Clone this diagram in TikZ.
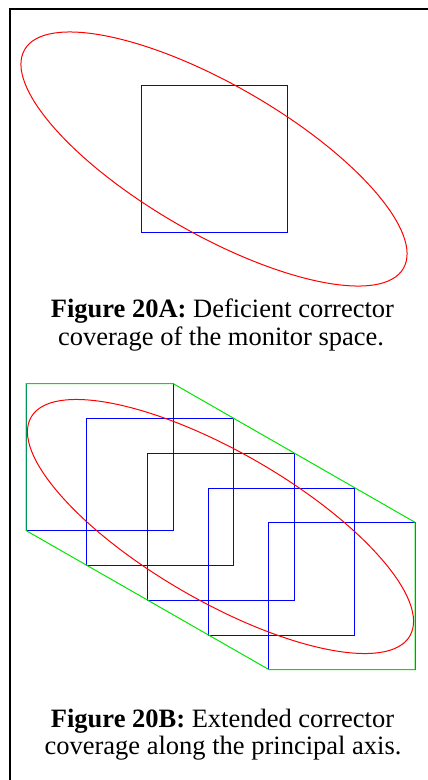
\documentclass[tikz,border=0pt]{standalone}
\usepackage{fontspec}
\setmainfont{Liberation Serif}
\begin{document}
\begin{tikzpicture}[x=1pt,y=-1pt,
  frame/.style={draw=black,line width=2pt},
  sq/.style={draw=blue,line width=1pt},
  hull/.style={draw=green!90!black,line width=1pt},
  ell/.style={draw=red,line width=1pt},
  captxt/.style={font=\fontsize{26.5}{28}\selectfont,anchor=base,inner sep=0pt}]
\useasboundingbox (0,0) rectangle (428,780);
% frame
\draw[frame] (10,782) -- (10,9) -- (430,9);
% ---- Figure 20A ----
\coordinate (E1) at (214,159);
\draw[sq] (141,85.5) rectangle (287,232.5);
\draw[ell, rotate around={-30:(E1)}] (E1) ellipse [x radius=218.7pt, y radius=74.6pt];
\node[captxt] (capAa) at (222.4,317) {\textbf{Figure 20A:} Deficient corrector};
\node[captxt] (capAb) at (221,345) {coverage of the monitor space.};
% ---- Figure 20B ----
\coordinate (E2) at (220.5,526.5);
\draw[sq] (26,383.5) rectangle (173,530.5);
\draw[sq] (86.8,418.3) rectangle (233.5,565.5);
\draw[sq] (147.5,453.3) rectangle (294.3,600.5);
\draw[sq] (208.2,488.5) rectangle (354.5,635.2);
\draw[sq] (268.8,522.3) rectangle (415,669.5);
\draw[hull] (26,383.5) -- (173,383.5) -- (415,522.3) -- (415,669.5) -- (268.8,669.5) -- (26,530.5) -- cycle;
\draw[ell, rotate around={-30:(E2)}] (E2) ellipse [x radius=218.7pt, y radius=74.6pt];
\node[captxt] (capBa) at (222.5,727) {\textbf{Figure 20B:} Extended corrector};
\node[captxt] (capBb) at (223,754) {coverage along the principal axis.};
\end{tikzpicture}
\end{document}
